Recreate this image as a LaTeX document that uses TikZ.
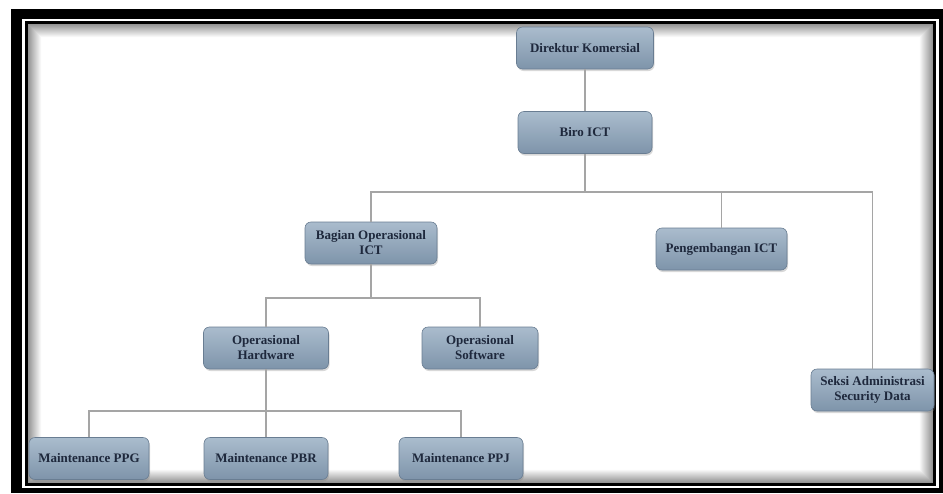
\documentclass[tikz,border=0pt]{standalone}
\usepackage{fontspec}
\setmainfont{Liberation Serif}
\usetikzlibrary{shadows}
\definecolor{boxtop}{RGB}{170,188,205}
\definecolor{boxbot}{RGB}{126,148,170}
\definecolor{boxline}{RGB}{105,125,146}
\definecolor{txt}{RGB}{30,40,60}
\definecolor{conn}{RGB}{165,165,165}
\tikzset{
  orgbox/.style={draw=boxline, line width=0.6pt, rounded corners=6pt,
    top color=boxtop, bottom color=boxbot, text=txt,
    font=\fontsize{13}{15}\selectfont\bfseries, align=center,
    minimum height=42pt, inner sep=2pt,
    drop shadow={opacity=0.3, shadow xshift=1pt, shadow yshift=-2pt}},
  connline/.style={draw=conn, line width=1.2pt}
}
\begin{document}
\begin{tikzpicture}[x=1pt,y=-1pt]
\useasboundingbox (0,0) rectangle (943,493);
\fill[white] (0,0) rectangle (943,493);
% frame
\fill[black] (11,9) rectangle (943,493);
\fill[white] (22,19) rectangle (939,488);
\fill[black] (25,21) rectangle (936,486);
\fill[white] (28,24) rectangle (933,483);
\foreach \i in {0,...,13}{
  \pgfmathsetmacro\g{max(0,42-3.2*\i)}
  \draw[black!\g, line width=1pt] (28.5+\i,24.5+\i) rectangle (932.5-\i,482.5-\i);
}
% nodes
\node[orgbox, minimum width=137pt] (dir) at (585,48) {Direktur Komersial};
\node[orgbox, minimum width=134pt] (biro) at (585,132.5) {Biro ICT};
\node[orgbox, minimum width=132pt] (bag) at (371,243) {Bagian Operasional\\ICT};
\node[orgbox, minimum width=131pt] (peng) at (721.5,249) {Pengembangan ICT};
\node[orgbox, minimum width=123pt] (seksi) at (872.5,390) {Seksi Administrasi\\Security Data};
\node[orgbox, minimum width=125pt] (hw) at (266,348) {Operasional\\Hardware};
\node[orgbox, minimum width=116pt] (sw) at (480,348) {Operasional\\Software};
\node[orgbox, minimum width=120pt] (ppg) at (89,458.5) {Maintenance PPG};
\node[orgbox, minimum width=124pt] (pbr) at (266,458.5) {Maintenance PBR};
\node[orgbox, minimum width=124pt] (ppj) at (461,458.5) {Maintenance PPJ};
% buses
\coordinate (busA) at (585,192);
\coordinate (busB) at (371,298);
\coordinate (busC) at (266,411);
% connectors
\draw[connline] (dir.south) -- (biro.north);
\draw[connline] (biro.south) -- (busA);
\draw[connline] (bag.north) |- (busA);
\draw[connline] (peng.north) |- (busA);
\draw[connline] (seksi.north) |- (busA);
\draw[connline] (bag.south) -- (busB);
\draw[connline] (hw.north) |- (busB);
\draw[connline] (sw.north) |- (busB);
\draw[connline] (hw.south) -- (busC);
\draw[connline] (ppg.north) |- (busC);
\draw[connline] (pbr.north) |- (busC);
\draw[connline] (ppj.north) |- (busC);
\end{tikzpicture}
\end{document}
